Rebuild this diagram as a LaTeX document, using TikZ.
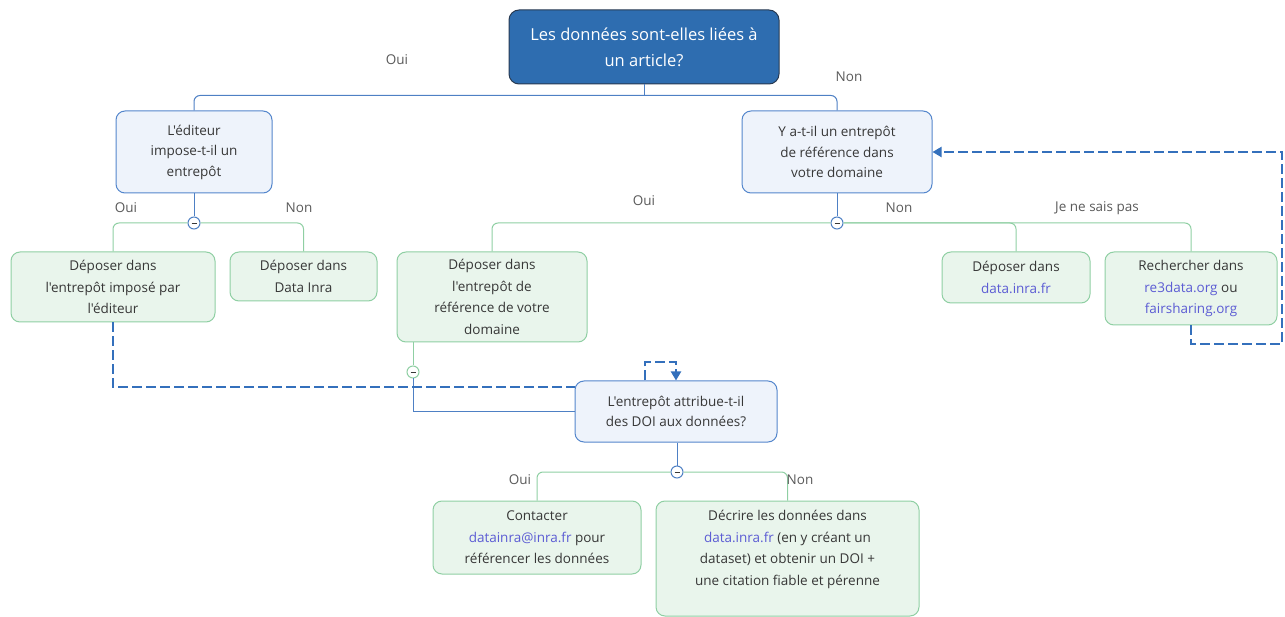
\documentclass[tikz,border=0pt]{standalone}
\usepackage{fontspec}
\setmainfont{Open Sans}[Ligatures=TeXOff]
\usetikzlibrary{calc,arrows.meta}
\definecolor{rootfill}{RGB}{46,109,176}
\definecolor{rootdraw}{RGB}{40,58,82}
\definecolor{qfill}{RGB}{238,243,251}
\definecolor{qdraw}{RGB}{84,134,204}
\definecolor{leaffill}{RGB}{233,245,236}
\definecolor{leafdraw}{RGB}{143,207,163}
\definecolor{bluel}{RGB}{78,128,196}
\definecolor{dashc}{RGB}{52,112,188}
\definecolor{linkc}{RGB}{92,92,212}
\definecolor{txt}{RGB}{55,55,55}
\definecolor{lbl}{RGB}{90,90,90}
\newcommand{\lnk}[1]{\textcolor{linkc}{#1}}
\tikzset{
  rootbox/.style={draw=rootdraw, fill=rootfill, text=white, rounded corners=10pt, line width=1pt,
    align=center, inner sep=0pt, font=\fontsize{16.5}{26}\selectfont},
  qbox/.style={draw=qdraw, fill=qfill, text=txt, rounded corners=9pt, line width=1pt,
    align=center, inner sep=0pt, font=\fontsize{13.5}{20.5}\selectfont},
  leafbox/.style={draw=leafdraw, fill=leaffill, text=txt, rounded corners=9pt, line width=1pt,
    align=center, inner sep=0pt, font=\fontsize{13.5}{21.5}\selectfont},
  bline/.style={draw=bluel, line width=1pt, rounded corners=6pt},
  gline/.style={draw=leafdraw, line width=1pt, rounded corners=6pt},
  dashline/.style={draw=dashc, line width=2pt, dash pattern=on 10pt off 4pt},
  collapse/.style={circle, draw=#1, fill=white, line width=1pt, minimum size=12pt, inner sep=0pt,
    path picture={\draw[txt, line width=0.8pt] ($(path picture bounding box.center)+(-2.5,0)$) -- ++(5,0);}},
  answer/.style={text=lbl, font=\fontsize{13.5}{15}\selectfont}
}
\begin{document}
\begin{tikzpicture}[x=1pt, y=-1pt]
\useasboundingbox (0,0) rectangle (1285,617);
% questions
\node[rootbox, minimum width=270pt, minimum height=74pt] (root) at (644,47) {Les données sont-elles liées à\\un article?};
\node[qbox, minimum width=156pt, minimum height=82pt] (edit) at (194,152) {L'éditeur\\impose-t-il un\\entrepôt};
\node[qbox, minimum width=190pt, minimum height=82pt] (refq) at (837,152) {Y a-t-il un entrepôt\\de référence dans\\votre domaine};
\node[qbox, minimum width=202pt, minimum height=61pt] (doi) at (676,411.5) {L'entrepôt attribue-t-il\\des DOI aux données?};
% answers
\node[leafbox, minimum width=204pt, minimum height=70pt] (imposed) at (113,287) {Déposer dans\\l'entrepôt imposé par\\l'éditeur};
\node[leafbox, minimum width=147pt, minimum height=49pt] (datainra) at (303.5,276.5) {Déposer dans\\Data Inra};
\node[leafbox, minimum width=190pt, minimum height=90pt] (refrepo) at (492,297) {Déposer dans\\l'entrepôt de\\référence de votre\\domaine};
\node[leafbox, minimum width=148pt, minimum height=51pt] (datafr) at (1016,277.5) {Déposer dans\\\lnk{data.inra.fr}};
\node[leafbox, minimum width=172pt, minimum height=73pt] (search) at (1191,288.5) {Rechercher dans\\\lnk{re3data.org} ou\\\lnk{fairsharing.org}};
\node[leafbox, minimum width=208pt, minimum height=73pt] (contact) at (537,537.5) {Contacter\\\lnk{datainra@inra.fr} pour\\référencer les données};
\node[leafbox, minimum width=263pt, minimum height=115pt] (describe) at (787.5,558.5) {Décrire les données dans\\\lnk{data.inra.fr} (en y créant un\\dataset) et obtenir un DOI +\\une citation fiable et pérenne\\ };
% root branches
\coordinate (rootj) at ([yshift=-11pt]root.south);
\draw[bline] (root.south) -- (rootj);
\draw[bline] (edit.north) |- (rootj) -| (refq.north);
\node[answer] (l1) at (397,60) {Oui};
\node[answer] (l2) at (849,77) {Non};
% editeur branches
\node[collapse=bluel] (ca) at (194,223) {};
\draw[bline] (edit.south) -- (ca);
\draw[gline] (imposed.north) |- (ca) -| (datainra.north);
\node[answer] (l3) at (126,208) {Oui};
\node[answer] (l4) at (299,208) {Non};
% domaine branches
\node[collapse=bluel] (cb) at (837,223) {};
\draw[bline] (refq.south) -- (cb);
\draw[gline] (refrepo.north) |- (cb) -| (search.north);
\draw[gline] (cb) -| (datafr.north);
\node[answer] (l5) at (644,201) {Oui};
\node[answer] (l6) at (899,208) {Non};
\node[answer] (l7) at (1097,208) {Je ne sais pas};
% vers la question DOI
\node[collapse=leafdraw] (cc) at (413,372) {};
\draw[gline] (refrepo.south -| cc) -- (cc);
\draw[bline, rounded corners=0pt] (cc) |- (doi.west);
\draw[dashline] (imposed.south) |- ([yshift=24pt]doi.west);
\draw[dashline, -{Triangle[length=9pt,width=10pt]}] ([xshift=-31pt]doi.north) -- ++(0,-18) -| (doi.north);
\draw[dashline, -{Triangle[length=9pt,width=10pt]}] (search.south) -- ++(0,19) -| ([xshift=4pt]search.east |- refq.east) -- (refq.east);
% DOI branches
\node[collapse=bluel] (cd) at (677,472) {};
\draw[bline] (doi.south -| cd) -- (cd);
\draw[gline] (contact.north) |- (cd) -| (describe.north);
\node[answer] (l8) at (520,480) {Oui};
\node[answer] (l9) at (800,480) {Non};
\end{tikzpicture}
\end{document}
